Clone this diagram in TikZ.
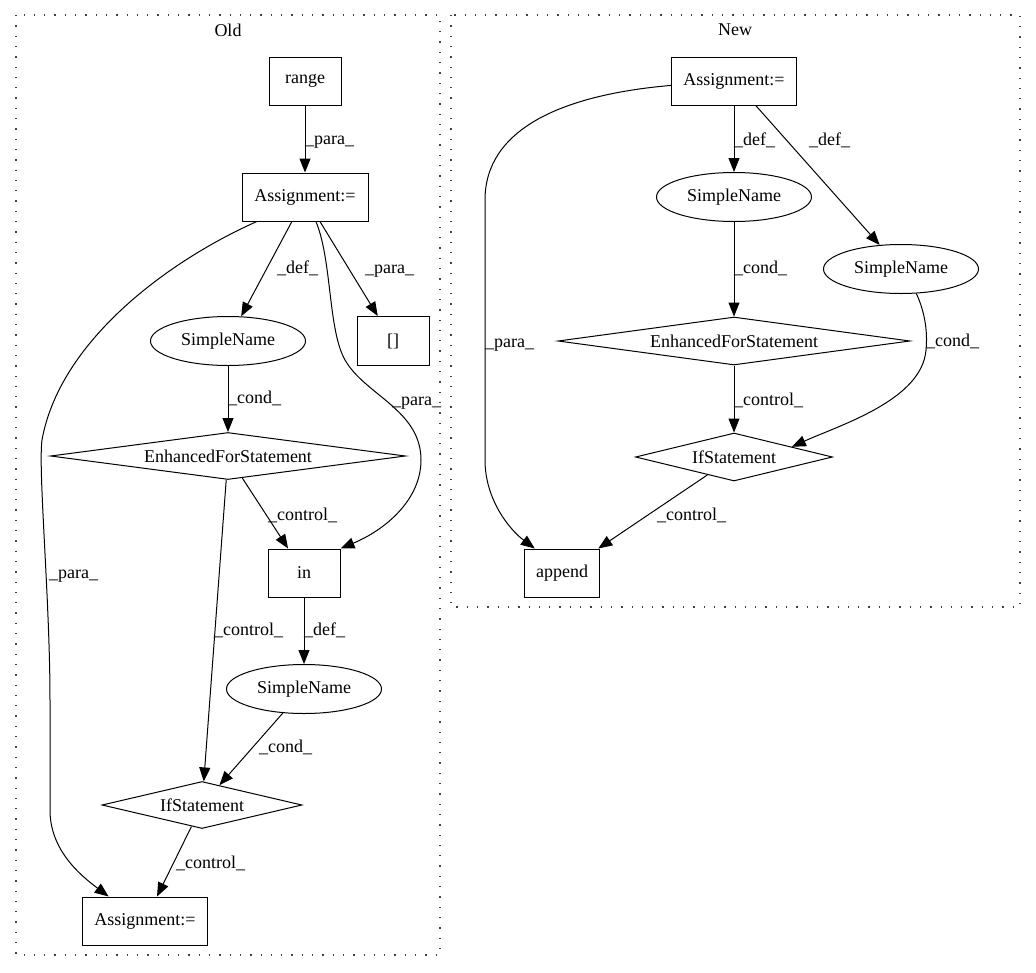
\documentclass[tikz,border=0pt]{standalone}
\usepackage{fontspec}
\setmainfont{Liberation Serif}
\usepackage{tikz}
\usetikzlibrary{arrows.meta,shapes.geometric}

\begin{document}
\begin{tikzpicture}[x=1pt,y=-1pt,font=\fontsize{18}{21}\selectfont,
    box/.style={draw,rectangle,line width=1pt,inner sep=0pt,minimum height=48pt},
    nm/.style={draw,ellipse,line width=1pt,inner sep=0pt,minimum width=155pt,minimum height=49pt},
    cond/.style={draw,diamond,aspect=6,line width=1pt,inner sep=0pt,minimum height=47pt},
    lab/.style={anchor=base west,inner sep=0pt},
    arr/.style={-{Triangle[length=14pt,width=11pt]},line width=1pt},
    clus/.style={draw,line width=1.3pt,dash pattern=on 1.3pt off 9pt,black!75}]
        \useasboundingbox (0,0) rectangle (1036,972);

        % Clusters
        \draw[clus] (16,15) rectangle (440,955); % Old
        \draw[clus] (451,15) rectangle (1020,607); % New
        \node (old) at (228,30) {Old};
        \node (new) at (735,30) {New};

        % Old nodes
        \node[box,minimum width=72pt] (range) at (305,81) {range};
        \node[box,minimum width=126pt] (asgOld) at (305,197) {Assignment:=};
        \node[nm] (snOld) at (228,341) {SimpleName};
        \node[box,minimum width=72pt,minimum height=49pt] (idx) at (393,341) {[]};
        \node[cond,minimum width=355pt] (forOld) at (228,456) {EnhancedForStatement};
        \node[box,minimum width=72pt] (inOld) at (304,573) {in};
        \node[nm] (snIn) at (304,689) {SimpleName};
        \node[cond,minimum width=200pt] (ifOld) at (202,805) {IfStatement};
        \node[box,minimum width=125pt] (asgEnd) at (145,921) {Assignment:=};

        % New nodes
        \node[box,minimum width=125pt] (asgNew) at (734,81) {Assignment:=};
        \node[nm] (snNew) at (734,197) {SimpleName};
        \node[nm] (snCond) at (901,269) {SimpleName};
        \node[cond,minimum width=352pt,minimum height=48pt] (forNew) at (734,341) {EnhancedForStatement};
        \node[cond,minimum width=197pt,minimum height=48pt] (ifNew) at (734,457) {IfStatement};
        \node[box,minimum width=75pt] (append) at (562,573) {append};

        % Old edges
        \draw[arr] (range) -- (asgOld);
        \draw[arr] (asgOld) -- (snOld);
        \draw[arr] (asgOld) -- (idx);
        \draw[arr] (asgOld.294) .. controls (332,260) and (328,330) .. (345,360)
            .. controls (365,395) and (421,410) .. (421,460)
            .. controls (421,500) and (385,530) .. (inOld.north east);
        \draw[arr] (asgOld.207) .. controls (170,260) and (60,340) .. (42,440)
            .. controls (38,470) and (50,600) .. (50,700) -- (50,810)
            .. controls (50,850) and (80,875) .. (asgEnd.146);
        \draw[arr] (snOld) -- (forOld);
        \draw[arr] (forOld) -- (inOld);
        \draw[arr] (forOld) -- (ifOld);
        \draw[arr] (inOld) -- (snIn);
        \draw[arr] (snIn) -- (ifOld);
        \draw[arr] (ifOld) -- (asgEnd);

        % New edges
        \draw[arr] (asgNew) -- (snNew);
        \draw[arr] (asgNew) -- (snCond);
        \draw[arr] (asgNew.184) .. controls (560,95) and (485,130) .. (485,200) -- (485,460)
            .. controls (485,500) and (510,530) .. (append.138);
        \draw[arr] (snNew) -- (forNew);
        \draw[arr] (snCond.302) .. controls (924,310) and (928,330) .. (926,350)
            .. controls (922,400) and (840,425) .. (ifNew.10);
        \draw[arr] (forNew) -- (ifNew);
        \draw[arr] (ifNew) -- (append);

        % Edge labels
        \node[lab] (l1) at (305,144) {\_para\_};
        \node[lab] (l2) at (277,273) {\_def\_};
        \node[lab] (l3) at (365,273) {\_para\_};
        \node[lab] (l4) at (392,405) {\_para\_};
        \node[lab] (l5) at (49,578) {\_para\_};
        \node[lab] (l6) at (228,403) {\_cond\_};
        \node[lab] (l7) at (268,520) {\_control\_};
        \node[lab] (l8) at (214,635) {\_control\_};
        \node[lab] (l9) at (304,635) {\_def\_};
        \node[lab] (l10) at (259,752) {\_cond\_};
        \node[lab] (l11) at (176,868) {\_control\_};
        \node[lab] (l12) at (734,145) {\_def\_};
        \node[lab] (l13) at (809,145) {\_def\_};
        \node[lab] (l14) at (734,273) {\_cond\_};
        \node[lab] (l15) at (485,347) {\_para\_};
        \node[lab] (l16) at (926,346) {\_cond\_};
        \node[lab] (l17) at (734,405) {\_control\_};
        \node[lab] (l18) at (657,520) {\_control\_};
    \end{tikzpicture}
\end{document}
